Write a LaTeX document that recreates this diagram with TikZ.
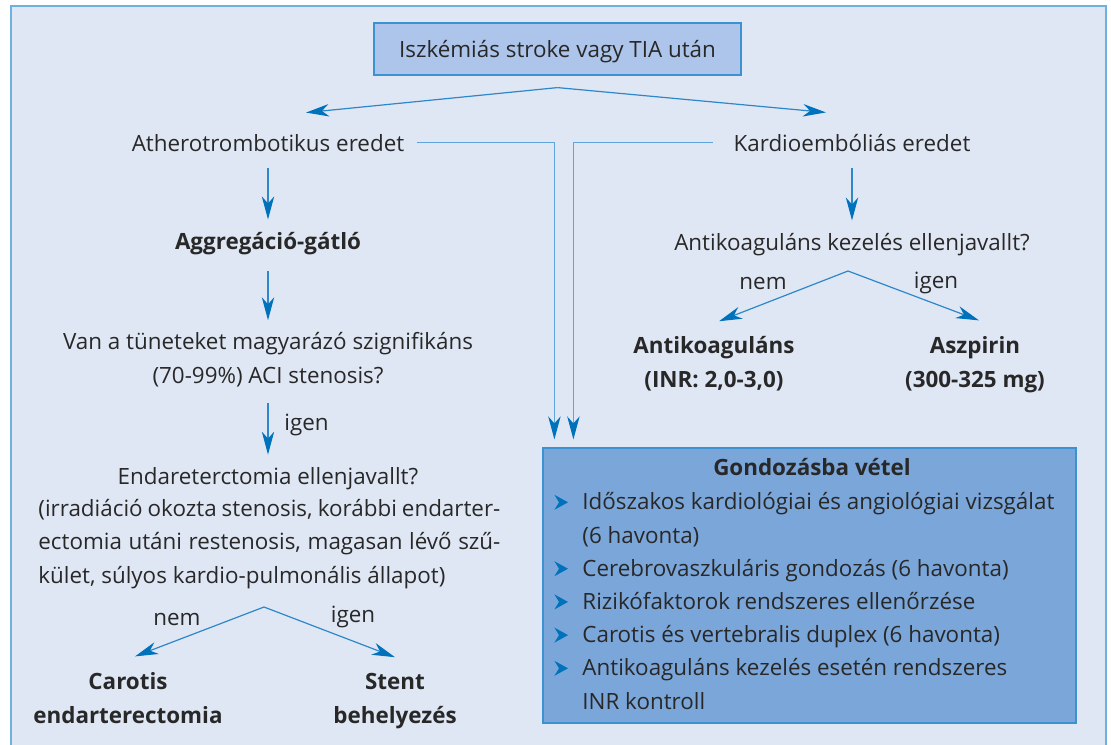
\documentclass[tikz,border=0pt]{standalone}
\usepackage{fontspec}
\setmainfont{Open Sans}
\usetikzlibrary{arrows.meta}

\definecolor{framefill}{RGB}{224,231,244}
\definecolor{frameline}{RGB}{110,176,222}
\definecolor{topfill}{RGB}{173,197,234}
\definecolor{boxline}{RGB}{60,145,208}
\definecolor{carefill}{RGB}{123,166,218}
\definecolor{flowline}{RGB}{45,135,200}
\definecolor{routeline}{RGB}{95,165,220}
\definecolor{tipblue}{RGB}{0,114,188}
\definecolor{ink}{RGB}{40,40,40}

\newcommand{\chev}{\tikz[x=1pt,y=1pt,baseline=0pt]\fill[tipblue] (0,0) -- (6.8,3.75) -- (0,7.5) -- (2.3,3.75) -- cycle;\hspace{7.2pt}}

\begin{document}
\begin{tikzpicture}[x=0.5pt,y=-0.5pt,
  txt/.style={font=\fontsize{11.2}{16.6}\selectfont,text=ink,inner sep=0pt,anchor=base},
  bold/.style={txt,font=\fontsize{11.2}{16.6}\selectfont\bfseries},
  flow/.style={draw=flowline,line width=0.6pt,-{Stealth[length=11.5pt,width=6.2pt,inset=3.5pt,color=tipblue]}},
  route/.style={flow,draw=routeline,line width=0.8pt},
  drop/.style={flow,shorten <=8pt,shorten >=6pt}]
\useasboundingbox (0,0) rectangle (1111,744);
\fill[framefill] (11,6) rectangle (1106,760);
\draw[frameline,line width=1pt] (11,760) -- (11,6) -- (1106,6) -- (1106,760);

% start
\node[draw=boxline,fill=topfill,line width=0.6pt,minimum width=183.5pt,minimum height=26pt,inner sep=0pt,
  text height=10pt,text depth=2pt,font=\fontsize{11.2}{16.6}\selectfont,text=ink] (start) at (557.5,49) {Iszkémiás stroke vagy TIA után};
\coordinate (forkT) at ([yshift=-6pt]start.south);

% left branch (multi-line nodes sit on their last baseline)
\node[txt] (ather) at (268,151) {Atherotrombotikus eredet};
\node[bold] (aggr) at (268,249) {Aggregáció-gátló};
\node[txt,align=center] (vanq) at (268,383) {Van a tüneteket magyarázó szignifikáns\\(70-99\%) ACI stenosis?};
\node[txt,anchor=base west] (yesM) at (284,430) {igen};
\node[txt] (endq) at (268,484) {Endareterctomia ellenjavallt?};
\node[txt,anchor=base west,align=left] (endwhy) at (38,583) {\makebox[231pt][s]{(irradiáció okozta stenosis, korábbi endarter-}\\
  \makebox[231pt][s]{ectomia utáni restenosis, magasan lévő szű-}\\
  kület, súlyos kardio-pulmonális állapot)};
\coordinate (forkL) at (264,607);
\node[txt] (noL) at (177,625) {nem};
\node[txt] (yesL) at (353,622) {igen};
\node[bold,align=center] (carotis) at (128,723) {Carotis\\endarterectomia};
\node[bold,align=center] (stent) at (395,723) {Stent\\behelyezés};

% right branch
\node[txt] (kardio) at (852,151) {Kardioembóliás eredet};
\node[txt] (antiq) at (852,250) {Antikoaguláns kezelés ellenjavallt?};
\coordinate (forkR) at (848,271);
\node[txt] (noR) at (763,289) {nem};
\node[txt] (yesR) at (936,288) {igen};
\node[bold,align=center] (antikoag) at (714,387) {Antikoaguláns\\(INR: 2,0-3,0)};
\node[bold,align=center] (aszpirin) at (975,387) {Aszpirin\\(300-325 mg)};

% follow-up box
\node[draw=boxline,fill=carefill,line width=0.6pt,minimum width=266.5pt,minimum height=137.5pt,inner sep=0pt] (care) at (809.5,585.5) {};
\node[bold] (gond) at (812,475) {Gondozásba vétel};
\node[txt,anchor=base west,align=left] (gondlist) at (554,709) {\chev Időszakos kardiológiai és angiológiai vizsgálat\\
  \hspace*{14pt}(6 havonta)\\
  \chev Cerebrovaszkuláris gondozás (6 havonta)\\
  \chev Rizikófaktorok rendszeres ellenőrzése\\
  \chev Carotis és vertebralis duplex (6 havonta)\\
  \chev Antikoaguláns kezelés esetén rendszeres\\
  \hspace*{14pt}INR kontroll};

% arrows
\draw[flow] (forkT) -- ([shift={(38,-21)}]ather.north);
\draw[flow] (forkT) -- ([shift={(-26,-21)}]kardio.north);
\draw[drop] (ather) -- (aggr);
\draw[drop] (aggr) -- (vanq);
\draw[drop] (vanq) -- (endq);
\draw[route] ([xshift=6pt]ather.east) -| ([shift={(12,-8)}]care.north west);
\draw[route] ([xshift=-10pt]kardio.west) -| ([shift={(31,-8)}]care.north west);
\draw[drop] (kardio) -- (antiq);
\draw[flow] (forkR) -- ([shift={(5,-15)}]antikoag.north);
\draw[flow] (forkR) -- ([shift={(4,-16)}]aszpirin.north);
\draw[flow] (forkL) -- ([shift={(7,-16)}]carotis.north);
\draw[flow] (forkL) -- ([shift={(0,-16)}]stent.north);
\end{tikzpicture}
\end{document}
